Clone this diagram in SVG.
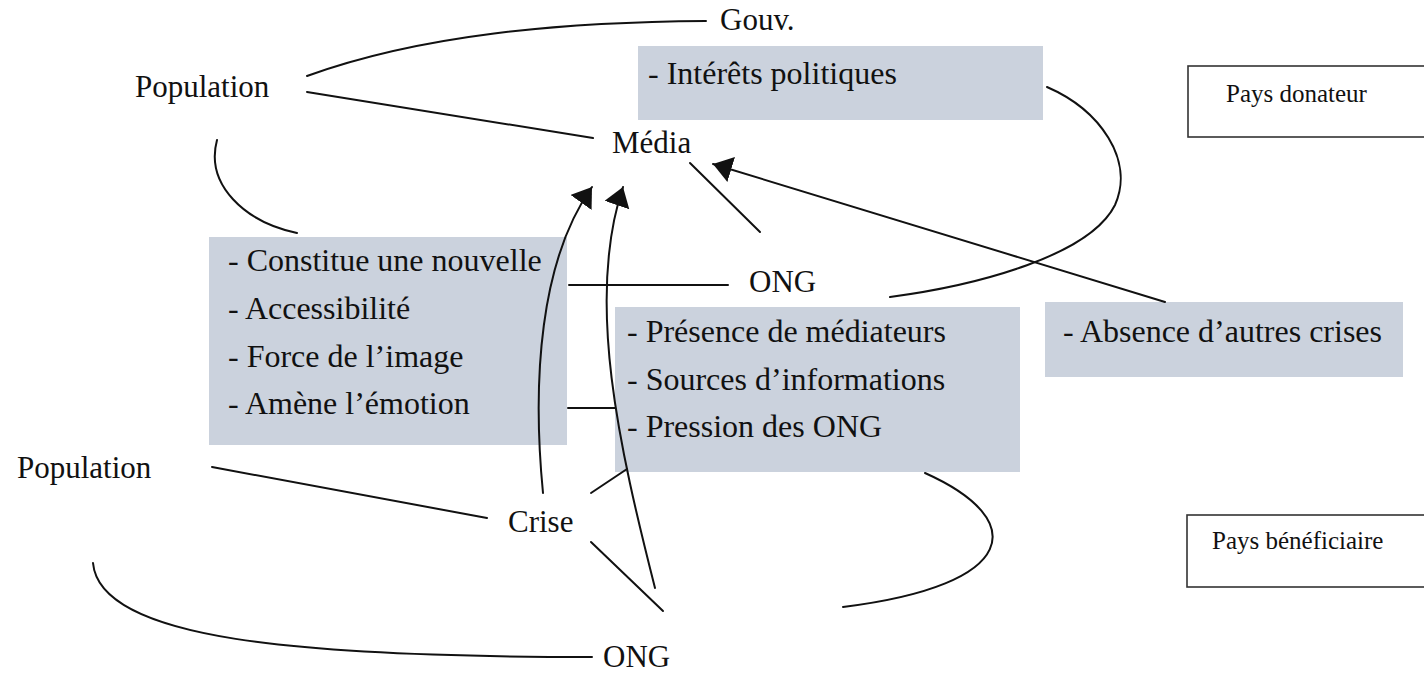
<svg xmlns="http://www.w3.org/2000/svg" width="1424" height="680" viewBox="0 0 1424 680">
  <style>
    text { font-family: "Liberation Serif", "DejaVu Serif", serif; fill: #111; }
    .lbl { font-size: 31px; }
    .bul { font-size: 32px; }
    .ctx { font-size: 25px; }
    .shade { fill: #cbd2dd; }
    .frame { fill: #fff; stroke: #333; stroke-width: 1.6; }
    .edge { fill: none; stroke: #111; stroke-width: 2; stroke-linecap: round; }
  </style>
  <defs>
    <marker id="head" markerUnits="userSpaceOnUse" markerWidth="24" markerHeight="30" refX="19" refY="13" orient="auto">
      <path d="M0,0 L19,13 L0,26 Z" fill="#111"/>
    </marker>
  </defs>

  <rect width="1424" height="680" fill="#fff"/>

  <!-- context frames -->
  <g id="pays-donateur">
    <rect class="frame" x="1188" y="66" width="250" height="71"/>
    <text class="ctx" x="1226" y="102">Pays donateur</text>
  </g>
  <g id="pays-beneficiaire">
    <rect class="frame" x="1187" y="515" width="250" height="72"/>
    <text class="ctx" x="1212" y="549">Pays bénéficiaire</text>
  </g>

  <!-- factor boxes -->
  <g id="interets">
    <rect class="shade" x="638" y="46" width="405" height="74"/>
    <text class="bul" x="648" y="84">- Intérêts politiques</text>
  </g>
  <g id="facteurs-media">
    <rect class="shade" x="209" y="237" width="358" height="208"/>
    <text class="bul" x="228" y="271">- Constitue une nouvelle</text>
    <text class="bul" x="228" y="319">- Accessibilité</text>
    <text class="bul" x="228" y="367">- Force de l’image</text>
    <text class="bul" x="228" y="414">- Amène l’émotion</text>
  </g>
  <g id="facteurs-ong">
    <rect class="shade" x="615" y="307" width="405" height="165"/>
    <text class="bul" x="627" y="342">- Présence de médiateurs</text>
    <text class="bul" x="627" y="390">- Sources d’informations</text>
    <text class="bul" x="627" y="437">- Pression des ONG</text>
  </g>
  <g id="absence">
    <rect class="shade" x="1045" y="302" width="358" height="75"/>
    <text class="bul" x="1063" y="342">- Absence d’autres crises</text>
  </g>

  <!-- actors -->
  <g id="gouv"><text class="lbl" x="720" y="30">Gouv.</text></g>
  <g id="population-donateur"><text class="lbl" x="135" y="97">Population</text></g>
  <g id="media"><text class="lbl" x="612" y="153">Média</text></g>
  <g id="ong-donateur"><text class="lbl" x="749" y="292">ONG</text></g>
  <g id="population-beneficiaire"><text class="lbl" x="17" y="478">Population</text></g>
  <g id="crise"><text class="lbl" x="508" y="532">Crise</text></g>
  <g id="ong-beneficiaire"><text class="lbl" x="603" y="667">ONG</text></g>

  <!-- connectors -->
  <g id="connectors">
    <path class="edge" d="M307,76 C420,35 560,22 706,21"/>
    <path class="edge" d="M307,92 L593,138"/>
    <path class="edge" d="M217,140 C205,185 245,222 297,233"/>
    <path class="edge" d="M569,285 L728,285"/>
    <path class="edge" d="M1047,87 C1100,110 1135,160 1115,205 C1090,255 980,285 890,297"/>
    <path class="edge" d="M690,163 L760,232"/>
    <path class="edge" d="M1165,302 L713,164" marker-end="url(#head)"/>
    <path class="edge" d="M568,408 L615,408"/>
    <path class="edge" d="M212,467 L487,518"/>
    <path class="edge" d="M591,493 L627,469"/>
    <path class="edge" d="M591,542 L663,611"/>
    <path class="edge" d="M543,493 C532,380 540,260 592,187" marker-end="url(#head)"/>
    <path class="edge" d="M655,588 C620,450 585,300 623,187" marker-end="url(#head)"/>
    <path class="edge" d="M93,563 C100,640 300,657 592,657"/>
    <path class="edge" d="M925,473 C1030,520 1020,585 843,607"/>
  </g>
</svg>
